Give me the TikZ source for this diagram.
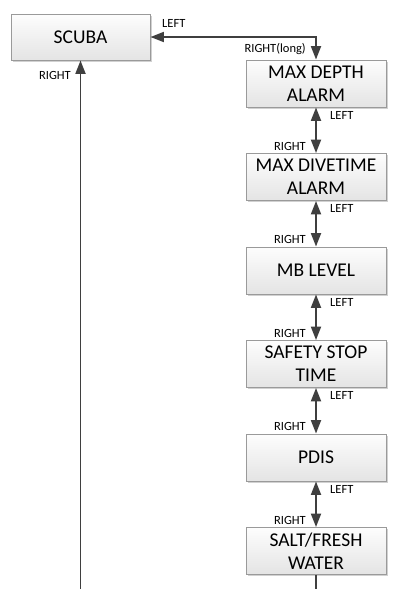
\documentclass[tikz,border=0pt]{standalone}
\usepackage{fontspec}
\setmainfont{Carlito}
\usetikzlibrary{arrows.meta,shadows}
\definecolor{boxline}{HTML}{9A9A9A}
\definecolor{boxtop}{HTML}{FDFDFD}
\definecolor{boxbot}{HTML}{E4E4E4}
\definecolor{wire}{HTML}{3F3F3F}
\tikzset{
  menubox/.style={draw=boxline, line width=0.9pt, top color=boxtop, bottom color=boxbot,
    minimum width=140pt, minimum height=47pt, inner sep=0pt, align=center,
    font=\fontsize{19.5}{23}\selectfont,
    drop shadow={shadow xshift=1.6pt, shadow yshift=-1.6pt, fill=black, opacity=0.18}},
  keylabel/.style={inner sep=0pt, font=\fontsize{12.5}{14}\selectfont, text=black},
  wireline/.style={draw=wire, line width=1.9pt},
  oneway/.style={wireline, -{Triangle[length=13.5pt,width=10pt]}},
  twoway/.style={wireline, {Triangle[length=13.5pt,width=10pt]}-{Triangle[length=13.5pt,width=10pt]}},
}
\begin{document}
\begin{tikzpicture}[x=1pt, y=-1pt]
  \useasboundingbox (0,0) rectangle (393,589);

  % menu entries
  \node[menubox, minimum width=139pt, minimum height=46pt] (scuba) at (80.5,37) {SCUBA};
  \node[menubox] (depth)  at (316,83.5)  {MAX DEPTH\\ALARM};
  \node[menubox] (dive)   at (316,177)   {MAX DIVETIME\\ALARM};
  \node[menubox] (mb)     at (316,270.5) {MB LEVEL};
  \node[menubox] (safety) at (316,364)   {SAFETY STOP\\TIME};
  \node[menubox] (pdis)   at (316,457.5) {PDIS};
  \node[menubox] (salt)   at (316,551)   {SALT/FRESH\\WATER};

  % free ends of the loop back to SCUBA
  \coordinate (loopL) at (80.5,589);
  \coordinate (loopR) at (316,589);

  % connectors
  \draw[twoway] (scuba.east) -| (depth.north);
  \draw[twoway] (depth.south) -- (dive.north);
  \draw[twoway] (dive.south) -- (mb.north);
  \draw[twoway] (mb.south) -- (safety.north);
  \draw[twoway] (safety.south) -- (pdis.north);
  \draw[twoway] (pdis.south) -- (salt.north);
  \draw[wireline] (salt.south) -- (loopR);
  \draw[oneway] (loopL) -- (scuba.south);

  % key labels
  \node[keylabel, anchor=west] (l0) at (162,23) {LEFT};
  \node[keylabel, anchor=east] (r0) at (306,49) {RIGHT(long)};
  \node[keylabel, anchor=east] (rs) at (71,75) {RIGHT};

  \node[keylabel, anchor=west] (l1) at (330,115) {LEFT};
  \node[keylabel, anchor=east] (r1) at (306,146) {RIGHT};
  \node[keylabel, anchor=west] (l2) at (330,208.5) {LEFT};
  \node[keylabel, anchor=east] (r2) at (306,239.5) {RIGHT};
  \node[keylabel, anchor=west] (l3) at (330,302) {LEFT};
  \node[keylabel, anchor=east] (r3) at (306,333) {RIGHT};
  \node[keylabel, anchor=west] (l4) at (330,395.5) {LEFT};
  \node[keylabel, anchor=east] (r4) at (306,426.5) {RIGHT};
  \node[keylabel, anchor=west] (l5) at (330,489) {LEFT};
  \node[keylabel, anchor=east] (r5) at (306,520) {RIGHT};
\end{tikzpicture}
\end{document}
